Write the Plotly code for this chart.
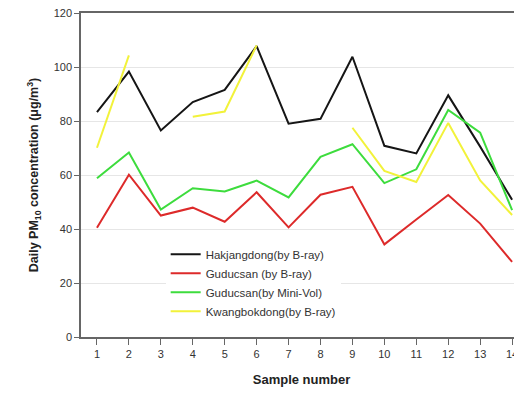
import plotly.graph_objects as go

samples = list(range(1, 15))
hakjangdong = [83.3, 98.3, 76.5, 87.0, 91.5, 107.7, 79.0, 80.8, 103.8, 70.8, 68.0, 89.5, 70.5, 50.8]
guducsan_bray = [40.5, 60.1, 45.0, 47.9, 42.7, 53.6, 40.6, 52.7, 55.6, 34.3, 43.5, 52.6, 42.0, 27.8]
guducsan_minivol = [58.8, 68.3, 47.2, 55.1, 53.9, 57.9, 51.7, 66.7, 71.4, 57.0, 62.1, 84.1, 75.7, 47.0]
kwangbokdong = [70.1, 104.3, None, 81.6, 83.5, 108.0, None, None, 77.5, 61.5, 57.4, 79.3, 58.0, 45.2]

names = ["Hakjangdong(by B-ray)", "Guducsan (by B-ray)", "Guducsan(by Mini-Vol)", "Kwangbokdong(by B-ray)"]
colors = ["#151515", "#dd2a2a", "#3ddc3d", "#f2f23a"]
series = [hakjangdong, guducsan_bray, guducsan_minivol, kwangbokdong]

fig = go.Figure()
for name, col, ys in zip(names, colors, series):
    fig.add_trace(go.Scatter(x=samples, y=ys, mode="lines", name=name,
                             line=dict(color=col, width=2), connectgaps=False))

# page body has an 8px margin, so the figure is placed at (8, 8)
fig.update_layout(
    width=514, height=379,
    margin=dict(l=73, r=0, t=5, b=50),
    paper_bgcolor="white", plot_bgcolor="white",
    font=dict(family="Liberation Sans, Arial, sans-serif", color="#333"),
    showlegend=True,
    legend=dict(x=0.192, y=0.30, xanchor="left", yanchor="top",
                bgcolor="white", font=dict(size=11.5, color="#333"),
                tracegroupgap=0, itemwidth=30),
)
fig.update_xaxes(range=[0.5, 14.31], tickmode="array", tickvals=samples,
                 ticktext=[str(s) for s in samples], automargin=False,
                 ticklabeloverflow="allow",
                 showgrid=False, zeroline=False,
                 showline=True, linecolor="#666", linewidth=1.5, mirror=True,
                 ticks="outside", ticklen=6, tickcolor="#666",
                 tickfont=dict(size=11, color="#333"),
                 title=dict(text="<b>Sample number</b>", font=dict(size=13, color="#222"), standoff=18))
fig.update_yaxes(range=[0, 120], tickvals=[0, 20, 40, 60, 80, 100, 120], automargin=False,
                 ticklabeloverflow="allow",
                 showgrid=True, gridcolor="#e6e6e6", gridwidth=1, zeroline=False,
                 showline=True, linecolor="#666", linewidth=1.5,
                 ticks="outside", ticklen=5, tickcolor="#666",
                 tickfont=dict(size=11, color="#333"),
                 title=dict(text="<b>Daily PM<sub>10</sub> concentration (μg/m<sup>3</sup>)</b>",
                            font=dict(size=12.5, color="#222"), standoff=12))

fig.write_html("out.html")
